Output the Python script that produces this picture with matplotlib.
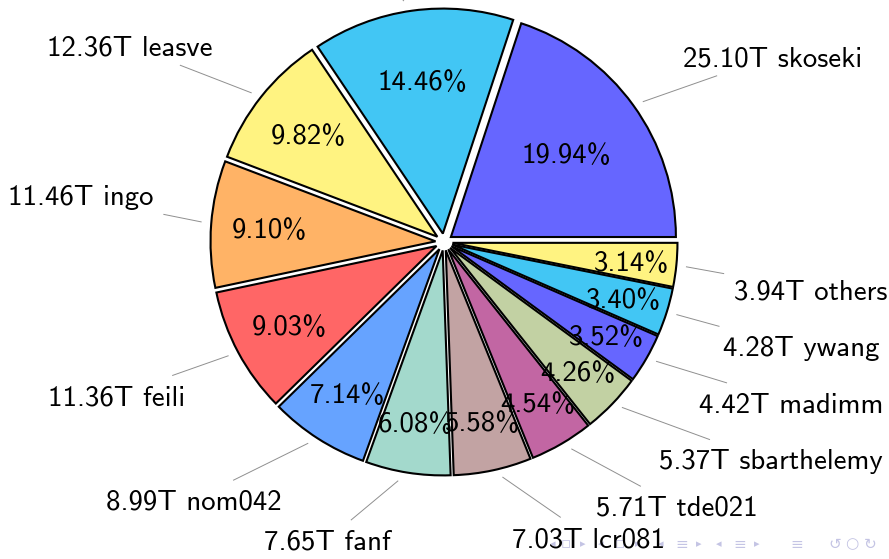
import numpy as np
import matplotlib
matplotlib.use("Agg")
import matplotlib.pyplot as plt

# storage use per user (pie values are the printed percentages)
users = ["skoseki", "", "leasve", "ingo", "feili", "nom042", "fanf",
         "lcr081", "tde021", "sbarthelemy", "madimm", "ywang", "others"]
pcts = [19.94, 14.46, 9.82, 9.10, 9.03, 7.14, 6.08, 5.58, 4.54, 4.26,
        3.52, 3.40, 3.14]
tera = [25.10, 18.20, 12.36, 11.46, 11.36, 8.99, 7.65, 7.03, 5.71, 5.37,
        4.42, 4.28, 3.94]
palette = ["#6666ff", "#42c6f4", "#fff381", "#ffb366", "#ff6666",
           "#66a3ff", "#a3d9cc", "#c2a3a3", "#c266a3", "#c2d1a3"]

# beamer navigation bar glyphs
nav_glyphs = ["◂", "▫", "▸", "◂", "▫", "▸", "◂", "≡", "▸", "◂", "≡", "▸",
              "≡", "↺", "○", "↻"]
nav_x = [553, 566, 583, 601, 620, 638, 661, 682, 699, 719, 740, 757,
         797, 835, 852, 870]

W, H = 889, 559
EM = 28.8                 # font size in pixels
FS = EM * 72 / 100
PAD = EM / 3              # tikz inner sep
PIN = 3 * 0.444 * EM      # pin distance (3ex)
R = 225
EXPL = 8.5

plt.rcParams["font.family"] = ["cmss10", "DejaVu Sans"]
plt.rcParams["font.size"] = FS

fig = plt.figure(figsize=(W / 100, H / 100), dpi=100)
ax = fig.add_axes([0, 0, 1, 1])

colors = [palette[i % len(palette)] for i in range(len(pcts))]
wedges, _ = ax.pie(pcts, colors=colors, explode=[EXPL] * len(pcts), radius=R,
                   center=(444, H - 242), startangle=0, counterclock=True,
                   normalize=True,
                   wedgeprops=dict(edgecolor="black", linewidth=1.5))
ax.set_xlim(0, W)
ax.set_ylim(0, H)
ax.set_aspect("equal")
ax.axis("off")

labels = []
for i, w in enumerate(wedges):
    w.set_zorder(2 + 2 * i)
    a = w.theta2 - w.theta1
    m = np.radians((w.theta1 + w.theta2) / 2)
    ux, uy = np.cos(m), np.sin(m)
    ox, oy = w.center

    # percentage inside the slice
    d = (0.83 - 0.3 * a / 110) * R
    ax.text(ox + d * ux, oy + d * uy - (0.75 - 0.056) / 2 * EM,
            f"{pcts[i]:.2f}%", ha="center", va="baseline", zorder=3 + 2 * i)

    # pinned label outside
    px, py = ox + R * ux, oy + R * uy
    k = PAD / max(abs(ux), abs(uy))
    qx, qy = px + (k + PIN) * ux, py + (k + PIN) * uy
    txt = f"{tera[i]:.2f}T {users[i]}".strip()
    depth = 0.194 * EM if any(c in txt for c in "gjpqy") else 0.0
    height = 0.694 * EM
    if ux >= 0:
        tx, ha = qx + PAD, "left"
    else:
        tx, ha = qx - PAD, "right"
    if uy >= 0:
        base = qy + PAD + depth
    else:
        base = qy - PAD - height
    t = ax.text(tx, base, txt, ha=ha, va="baseline", zorder=40)
    labels.append((t, px, py, tx, ha, base, depth, height))

fig.canvas.draw()
renderer = fig.canvas.get_renderer()
for t, px, py, tx, ha, base, depth, height in labels:
    width = t.get_window_extent(renderer).width
    left = (tx if ha == "left" else tx - width) - PAD
    right = left + width + 2 * PAD
    bottom = base - depth - PAD
    top = base + height + PAD
    cxn, cyn = (left + right) / 2, (bottom + top) / 2
    dx, dy = cxn - px, cyn - py
    s1 = PAD / max(abs(dx), abs(dy))
    hw, hh = (right - left) / 2, (top - bottom) / 2
    s2 = min(hw / abs(dx) if dx else np.inf, hh / abs(dy) if dy else np.inf)
    ax.plot([px + s1 * dx, cxn - s2 * dx], [py + s1 * dy, cyn - s2 * dy],
            color="#8f8f8f", lw=0.7, zorder=39, solid_capstyle="butt")

for g, x in zip(nav_glyphs, nav_x):
    big = g in "▫≡↺○↻"
    ax.text(x, H - 544, g, ha="center", va="center",
            fontsize=11 if big else 8, color="#c4c4e4",
            family="DejaVu Sans", zorder=1)

fig.savefig("out.png", dpi=100)
